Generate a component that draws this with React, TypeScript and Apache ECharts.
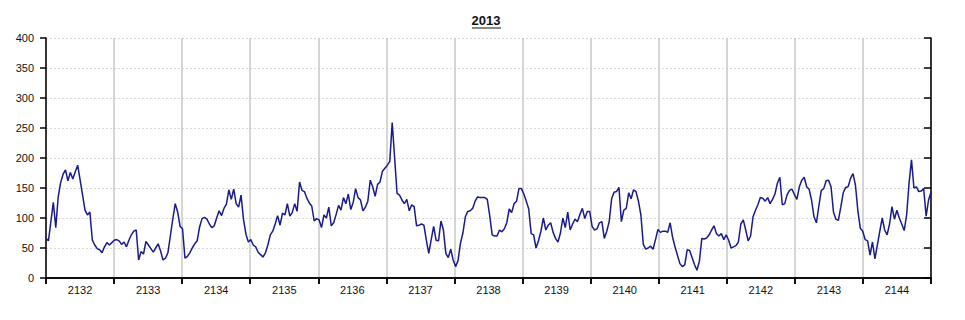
import React, { useEffect, useRef } from "react";
import * as echarts from "echarts";

const title = "2013";
const weeks = ["2132", "2133", "2134", "2135", "2136", "2137", "2138", "2139", "2140", "2141", "2142", "2143", "2144"];
const yTicks = { min: 0, max: 400, interval: 50 };

// 6-hourly values, 28 per week
const w2132 = [66, 62, 94, 126, 84, 135, 159, 173, 180, 162, 176, 165, 177, 188, 163, 138, 113, 105, 110, 63, 55, 49, 47, 42, 52, 59, 55, 59];
const w2133 = [63, 64, 62, 56, 60, 52, 63, 72, 78, 80, 30, 44, 40, 61, 55, 49, 43, 50, 57, 45, 30, 33, 42, 70, 98, 124, 110, 86];
const w2134 = [82, 33, 36, 42, 50, 57, 62, 85, 99, 101, 98, 90, 84, 87, 100, 112, 104, 116, 123, 147, 131, 148, 124, 118, 138, 98, 73, 60];
const w2135 = [64, 55, 52, 43, 39, 35, 42, 55, 72, 78, 90, 104, 88, 108, 105, 124, 103, 109, 124, 111, 160, 146, 144, 133, 125, 120, 95, 99];
const w2136 = [97, 84, 105, 100, 118, 87, 92, 106, 121, 113, 134, 124, 140, 114, 126, 149, 134, 130, 112, 118, 128, 163, 152, 136, 156, 160, 178, 183];
const w2137 = [188, 194, 259, 200, 141, 138, 130, 124, 131, 112, 122, 119, 87, 88, 90, 88, 63, 41, 64, 86, 63, 62, 95, 80, 41, 34, 48, 30];
const w2138 = [19, 29, 58, 75, 102, 111, 112, 116, 128, 135, 134, 134, 134, 131, 104, 72, 70, 70, 80, 77, 82, 92, 115, 109, 124, 128, 149, 149];
const w2139 = [140, 128, 115, 74, 72, 50, 62, 78, 100, 80, 88, 92, 76, 66, 60, 75, 100, 84, 110, 80, 90, 98, 94, 106, 116, 99, 111, 111];
const w2140 = [86, 80, 82, 92, 94, 66, 78, 94, 132, 143, 144, 151, 94, 113, 116, 142, 132, 147, 144, 128, 105, 56, 48, 50, 53, 48, 64, 81];
const w2141 = [76, 78, 78, 76, 92, 68, 52, 38, 24, 19, 22, 47, 46, 34, 22, 13, 28, 66, 65, 67, 72, 80, 87, 74, 70, 74, 64, 72];
const w2142 = [63, 50, 52, 54, 60, 90, 97, 80, 62, 70, 102, 113, 122, 134, 133, 128, 134, 124, 131, 140, 158, 168, 122, 124, 139, 146, 148, 139];
const w2143 = [131, 152, 163, 168, 152, 148, 130, 102, 92, 120, 146, 149, 162, 163, 152, 110, 98, 96, 118, 142, 151, 152, 166, 174, 155, 112, 83, 78];
const w2144 = [64, 62, 38, 60, 32, 55, 78, 100, 80, 72, 90, 119, 98, 113, 100, 90, 79, 105, 158, 197, 150, 152, 144, 145, 149, 103, 130, 143];

const values: number[] = [
  ...w2132, ...w2133, ...w2134, ...w2135, ...w2136, ...w2137, ...w2138,
  ...w2139, ...w2140, ...w2141, ...w2142, ...w2143, ...w2144,
];

const FONT = "'Liberation Sans', Arial, sans-serif";

export default function App() {
  const ref = useRef<HTMLDivElement>(null);
  useEffect(() => {
    if (!ref.current) return;
    const chart = echarts.init(ref.current, undefined, { renderer: "svg" });
    const axisLine = { show: true, lineStyle: { color: "#000", width: 1.5 } };
    chart.setOption({
      animation: false,
      backgroundColor: "#fff",
      textStyle: { fontFamily: FONT },
      grid: { left: 46, right: 34, top: 38, bottom: 42, containLabel: false },
      graphic: [
        {
          type: "text",
          x: 486,
          y: 14,
          style: { text: title, font: `bold 13px ${FONT}`, fill: "#111", textAlign: "center" },
        },
        {
          type: "line",
          shape: { x1: 472, y1: 28, x2: 501, y2: 28 },
          style: { stroke: "#111", lineWidth: 1 },
        },
      ],
      xAxis: [
        {
          type: "category",
          data: weeks,
          position: "bottom",
          boundaryGap: true,
          axisLine,
          axisTick: { show: true, length: 6, inside: false, lineStyle: { color: "#000", width: 1.5 } },
          axisLabel: { fontSize: 11, color: "#111", margin: 6, fontFamily: FONT },
          splitLine: { show: true, lineStyle: { color: "#c8c8c8", width: 1.5, type: "solid" } },
        },
        {
          type: "category",
          data: weeks,
          position: "top",
          boundaryGap: true,
          axisLine,
          axisTick: { show: true, length: 6, inside: true, lineStyle: { color: "#000", width: 1.5 } },
          axisLabel: { show: false },
          splitLine: { show: false },
        },
        {
          type: "value",
          min: 0,
          max: values.length - 1,
          show: false,
          splitLine: { show: false },
        },
      ],
      yAxis: [
        {
          type: "value",
          position: "left",
          min: yTicks.min,
          max: yTicks.max,
          interval: yTicks.interval,
          axisLine,
          axisTick: { show: true, length: 6, inside: false, lineStyle: { color: "#000", width: 1.5 } },
          axisLabel: { fontSize: 11, color: "#111", margin: 12, fontFamily: FONT },
          splitLine: { show: true, lineStyle: { color: "#d8d8d8", width: 1, type: [2, 2] } },
        },
        {
          type: "value",
          position: "right",
          min: yTicks.min,
          max: yTicks.max,
          interval: yTicks.interval,
          axisLine,
          axisTick: { show: true, length: 7, inside: true, lineStyle: { color: "#000", width: 1.5 } },
          axisLabel: { show: false },
          splitLine: { show: false },
        },
      ],
      series: [
        {
          type: "line",
          xAxisIndex: 2,
          yAxisIndex: 0,
          data: values.map((v, i) => [i, v]),
          showSymbol: false,
          lineStyle: { color: "#1a1a8c", width: 1.5 },
          itemStyle: { color: "#1a1a8c" },
        },
      ],
    });
    return () => chart.dispose();
  }, []);
  return (
    <div
      ref={ref}
      style={{ position: "fixed", left: 0, top: 0, width: 965, height: 320, background: "#fff" }}
    />
  );
}
